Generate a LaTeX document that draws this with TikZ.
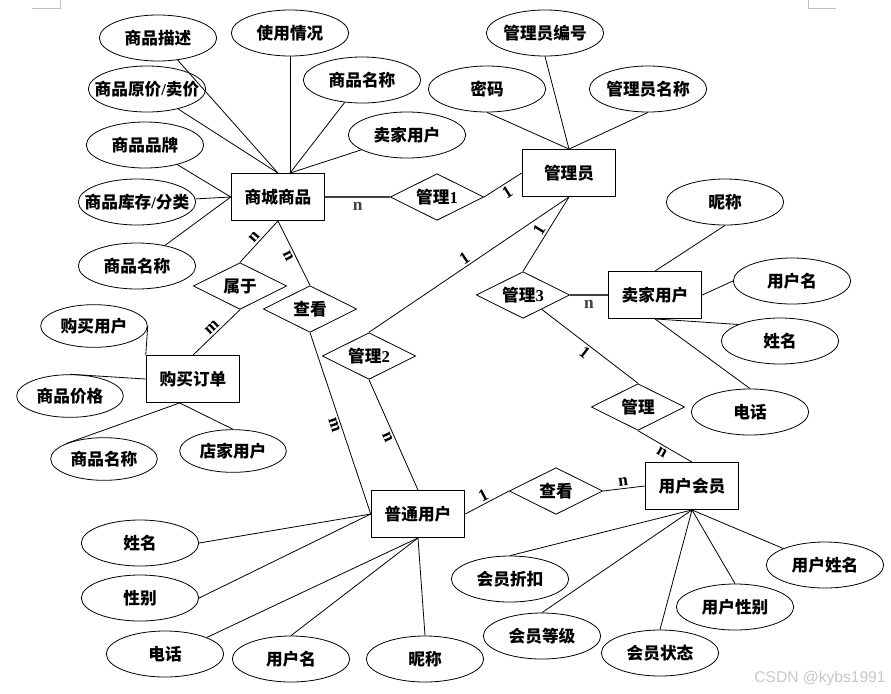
\documentclass[tikz,border=0pt]{standalone}
\usepackage{fontspec}
\setmainfont{Liberation Serif}
\newfontfamily\cjkfont{Noto Sans CJK SC}
\newfontfamily\wmfont{Liberation Sans}
\usetikzlibrary{shapes.geometric}

\begin{document}
\begin{tikzpicture}[x=0.75pt,y=-0.75pt,line width=0.6pt,
    every node/.style={font=\cjkfont\bfseries\fontsize{12.5}{14}\selectfont},
    attr/.style={draw,ellipse,minimum width=88pt,minimum height=34.5pt,inner sep=0pt,inner xsep=-9pt},
    attrs/.style={attr,minimum width=80pt,minimum height=32pt},
    entity/.style={draw,line width=0.9pt,minimum width=70pt,minimum height=35pt,inner sep=0pt},
    rel/.style={draw,diamond,aspect=2,minimum width=70pt,minimum height=35pt,inner sep=0pt},
    card/.style={font=\rmfamily\bfseries\fontsize{13}{14}\selectfont,inner sep=1.5pt},
    hlink/.style={line width=1.1pt,black!75}]
    \useasboundingbox (0,0) rectangle (891,693);
    \draw [black!25] (32,8)--(60,8)--(60,0);
    \draw [black!25] (836,8)--(808,8)--(808,0);

    \node [entity] (E1) at (278,197) {商城商品};
    \node [entity] (E2) at (569,173) {管理员};
    \node [entity] (E3) at (655,295) {卖家用户};
    \node [entity] (E4) at (692,486) {用户会员};
    \node [entity] (E5) at (418,514) {普通用户};
    \node [entity] (E6) at (193,379) {购买订单};

    \node [rel] (R1) at (437,197) {管理{\rmfamily 1}};
    \node [rel] (R2) at (369,356) {管理{\rmfamily 2}};
    \node [rel] (R3) at (523,295) {管理{\rmfamily 3}};
    \node [rel] (R4) at (638,407) {管理};
    \node [rel] (R5) at (556,491) {查看};
    \node [rel] (R6) at (240,286) {属于};
    \node [rel] (R7) at (310,309) {查看};

    \node [attr] (G1) at (158,38) {商品描述};
    \node [attr] (G2) at (290,33) {使用情况};
    \node [attr] (G3) at (362,80) {商品名称};
    \node [attr] (G4) at (147,89) {商品原价{\rmfamily /}卖价};
    \node [attr] (G5) at (407,135) {卖家用户};
    \node [attr] (G6) at (145,145) {商品品牌};
    \node [attr] (G7) at (137,202) {商品库存{\rmfamily /}分类};
    \node [attr] (G8) at (137,266) {商品名称};
    \draw (G1)--(E1.north);
    \draw (G4)--(E1.north);
    \foreach \a in {G2,G3,G5} \draw (\a)--([xshift=9pt]E1.north);
    \foreach \a in {G6,G7,G8} \draw (\a)--(E1.west);

    \node [attr] (M1) at (545,33) {管理员编号};
    \node [attr] (M2) at (487,89) {密码};
    \node [attr] (M3) at (648,89) {管理员名称};
    \foreach \a in {M1,M2,M3} \draw (\a.south)--(E2.north);

    \node [attr] (S1) at (725,202) {昵称};
    \node [attr] (S2) at (792,281) {用户名};
    \node [attr] (S3) at (780,341) {姓名};
    \node [attr] (S4) at (750,412) {电话};
    \draw (S1.south)--(E3.north);
    \draw (S2.west)--(E3.east);
    \draw (E3.south)--(S3.north west);
    \draw (E3.south)--(S4.north);

    \node [attr] (U1) at (510,579) {会员折扣};
    \node [attr] (U2) at (542,636) {会员等级};
    \node [attr] (U3) at (660,653) {会员状态};
    \node [attr] (U4) at (735,607) {用户性别};
    \node [attr] (U5) at (825,565) {用户姓名};
    \foreach \a in {U1,U2,U3,U4} \draw (E4.south)--(\a.north);
    \draw (E4.south)--(U5.north west);

    \node [attr] (P1) at (140,543) {姓名};
    \node [attr] (P2) at (140,598) {性别};
    \node [attr] (P3) at (165,654) {电话};
    \node [attr] (P4) at (291,659) {用户名};
    \node [attr] (P5) at (425,659) {昵称};
    \draw (P1.east)--(E5.west);
    \draw (P2.east)--(E5.west);
    \draw (P3.north east)--(E5.south);
    \draw (P4.north)--(E5.south);
    \draw (P5.north)--(E5.south);

    \node [attrs] (B1) at (94,326) {购买用户};
    \node [attrs] (B2) at (70,396) {商品价格};
    \node [attrs] (B3) at (104,459) {商品名称};
    \node [attrs] (B4) at (233,451) {店家用户};
    \draw (B1.east)--(E6.north west);
    \draw (B2.north)--(E6.west);
    \draw (B3.north west)--([xshift=-10pt]E6.south);
    \draw ([xshift=-10pt]E6.south)--(B4.north);

    \draw [hlink] (E1)--(R1) node[card,midway,below=2pt]{n};
    \draw (R1.east)--(E2.west) node[card,midway,sloped,below]{1};
    \draw (R6.north)--(E1.south) node[card,midway,sloped,above]{n};
    \draw (R7.north)--(E1.south) node[card,midway,sloped,below]{n};
    \draw (R6.south)--(E6.north) node[card,midway,sloped,above]{m};
    \draw (R7.south)--(E5.west) node[card,midway,sloped,below]{m};
    \draw (R2.south)--(E5.north) node[card,midway,sloped,below]{n};
    \draw (R2.north)--(E2.south) node[card,midway,sloped,above]{1};
    \draw (R3.north)--(E2.south) node[card,midway,sloped,above]{1};
    \draw [hlink] (R3)--(E3) node[card,midway,below=2pt]{n};
    \draw (R3)--(R4.north) node[card,midway,sloped,below]{1};
    \draw (R4.south)--(E4.north) node[card,midway,sloped,below]{n};
    \draw (E5.east)--(R5.west) node[card,midway,sloped,above]{1};
    \draw (R5.east)--(E4.west) node[card,midway,sloped,above]{n};

    \node [font=\wmfont\fontsize{11.7}{13}\selectfont,text=black!22] (W1) at (820,678) {CSDN @kybs1991};
\end{tikzpicture}
\end{document}
